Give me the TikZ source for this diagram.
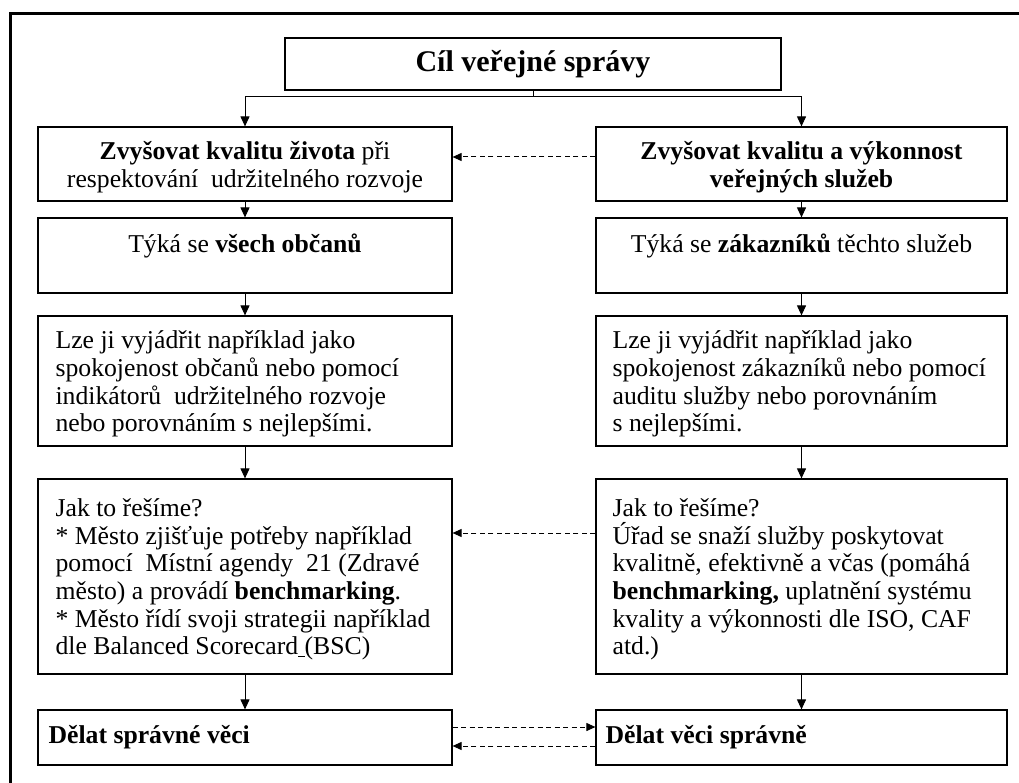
\documentclass[tikz,border=0pt]{standalone}
\usepackage{fontspec}
\setmainfont{Liberation Serif}
\usetikzlibrary{arrows.meta}
\begin{document}
\begin{tikzpicture}[x=1pt,y=-1pt,
  box/.style={draw,line width=1.2pt,inner sep=0pt},
  txt/.style={font=\fontsize{25.7}{27.7}\selectfont,inner sep=0pt},
  ttl/.style={font=\fontsize{30}{34}\selectfont\bfseries,inner sep=0pt},
  arr/.style={line width=1pt,-{Triangle[length=10pt,width=9pt]}},
  darr/.style={line width=1pt,dash pattern=on 5pt off 3.5pt,-{Triangle[length=9pt,width=8pt]}},
  frame/.style={line width=3pt}]
\useasboundingbox (0,0) rectangle (1019,783);
% outer partial frame
\draw[frame] (10,783) -- (10,14) -- (1019,14);

% boxes
\node[box,minimum width=496pt,minimum height=52pt] (top) at (533,64) {};
\node[box,minimum width=414pt,minimum height=74pt] (L1) at (245,164) {};
\node[box,minimum width=411pt,minimum height=74pt] (R1) at (801.5,164) {};
\node[box,minimum width=414pt,minimum height=75pt] (L2) at (245,255.5) {};
\node[box,minimum width=411pt,minimum height=75pt] (R2) at (801.5,255.5) {};
\node[box,minimum width=414pt,minimum height=130pt] (L3) at (245,381) {};
\node[box,minimum width=411pt,minimum height=130pt] (R3) at (801.5,381) {};
\node[box,minimum width=414pt,minimum height=195pt] (L4) at (245,576.5) {};
\node[box,minimum width=411pt,minimum height=195pt] (R4) at (801.5,576.5) {};
\node[box,minimum width=414pt,minimum height=55pt] (L5) at (245,737.5) {};
\node[box,minimum width=411pt,minimum height=55pt] (R5) at (801.5,737.5) {};

% texts
\node[ttl] (ttop) at (top.center) {Cíl veřejné správy};
\node[txt,align=center] (tL1) at ([yshift=-3pt]L1.center) {\textbf{Zvyšovat kvalitu života} při\\respektování\ \ udržitelného rozvoje};
\node[txt,align=center] (tR1) at ([yshift=-3pt]R1.center) {\textbf{Zvyšovat kvalitu a výkonnost}\\\textbf{veřejných služeb}};
\node[txt,anchor=base] (tL2) at ([yshift=-35pt]L2.north) {Týká se \textbf{všech občanů}};
\node[txt,anchor=base] (tR2) at ([yshift=-35pt]R2.north) {Týká se \textbf{zákazníků} těchto služeb};
\node[txt,align=left,anchor=west] (tL3) at ([xshift=18pt,yshift=-3pt]L3.west) {Lze ji vyjádřit například jako\\spokojenost občanů nebo pomocí\\indikátorů\ \ udržitelného rozvoje\\nebo porovnáním s nejlepšími.};
\node[txt,align=left,anchor=west] (tR3) at ([xshift=17pt,yshift=-3pt]R3.west) {Lze ji vyjádřit například jako\\spokojenost zákazníků nebo pomocí\\auditu služby nebo porovnáním\\s nejlepšími.};
\node[txt,align=left,anchor=west] (tL4) at ([xshift=18pt,yshift=-3pt]L4.west) {Jak to řešíme?\\* Město zjišťuje potřeby například\\pomocí\ \ Místní agendy\ \ 21 (Zdravé\\město) a provádí \textbf{benchmarking}.\\* Město řídí svoji strategii například\\dle Balanced Scorecard\underline{\ }(BSC)};
\node[txt,align=left,anchor=west] (tR4) at ([xshift=17pt,yshift=-3pt]R4.west) {Jak to řešíme?\\Úřad se snaží služby poskytovat\\kvalitně, efektivně a včas (pomáhá\\\textbf{benchmarking,} uplatnění systému\\kvality a výkonnosti dle ISO, CAF\\atd.)};
\node[txt,anchor=west] (tL5) at ([xshift=11pt]L5.west) {\textbf{Dělat správné věci}};
\node[txt,anchor=west] (tR5) at ([xshift=10pt]R5.west) {\textbf{Dělat věci správně}};

% tree connector
\coordinate (j) at (533,97);
\draw[line width=1pt] (top.south) -- (j);
\draw[arr] (j) -| (L1.north);
\draw[arr] (j) -| (R1.north);

% column arrows
\draw[arr] (L1.south) -- (L2.north);
\draw[arr] (L2.south) -- (L3.north);
\draw[arr] (L3.south) -- (L4.north);
\draw[arr] (L4.south) -- (L5.north);
\draw[arr] (R1.south) -- (R2.north);
\draw[arr] (R2.south) -- (R3.north);
\draw[arr] (R3.south) -- (R4.north);
\draw[arr] (R4.south) -- (R5.north);

% dashed arrows
\draw[darr] ([yshift=7pt]R1.west) -- ([yshift=7pt]L1.east);
\draw[darr] ([yshift=43.5pt]R4.west) -- ([yshift=43.5pt]L4.east);
\draw[darr] ([yshift=10.5pt]L5.east) -- ([yshift=10.5pt]R5.west);
\draw[darr] ([yshift=-8.5pt]R5.west) -- ([yshift=-8.5pt]L5.east);
\end{tikzpicture}
\end{document}
